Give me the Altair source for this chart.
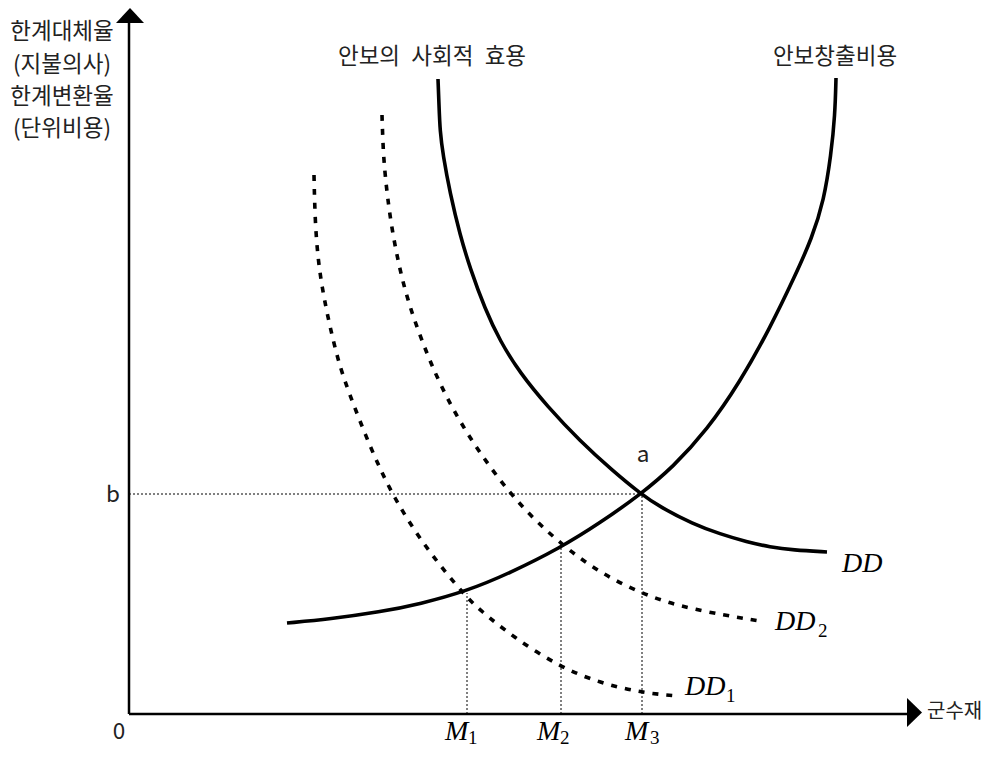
import altair as alt
import pandas as pd

# ---- curve data (quantity q, price p) ----
dd_q = [309, 310, 311, 314, 321, 331, 341, 356, 371, 391, 418, 451, 484, 512, 531, 564, 591, 618, 641, 664, 698]
dd_p = [635, 609, 583, 559, 521, 479, 446, 405, 373, 341, 308, 273, 243, 220, 207, 190, 180, 172, 167, 164, 162]

sup_q = [158, 201, 251, 291, 338, 381, 431, 471, 512, 544, 578, 611, 641, 666, 683, 695, 702, 706, 707]
sup_p = [91, 95, 102, 110, 123, 141, 166, 191, 220, 247, 284, 332, 386, 438, 476, 514, 559, 599, 636]

dd2_q = [253, 254, 256, 261, 269, 279, 294, 311, 338, 381, 421, 464, 514, 564, 631]
dd2_p = [599, 567, 539, 496, 452, 412, 370, 329, 279, 219, 179, 145, 119, 104, 93]

dd1_q = [185, 186, 189, 194, 201, 209, 218, 241, 264, 298, 338, 351, 384, 431, 471, 514, 549]
dd1_p = [539, 494, 454, 421, 387, 354, 326, 267, 217, 164, 116, 104, 77, 47, 31, 21, 18]

# equilibrium quantities and price
m_q = [338, 432, 513]
m_top = [121, 166, 220]
b_price = 220
a_q = 512

# axis extents
x_end = 778
y_end = 691

W, H = 858, 706
xs = alt.Scale(domain=[0, W], nice=False, zero=False)
ys = alt.Scale(domain=[0, H], nice=False, zero=False)


def enc(**kw):
    return dict(
        x=alt.X("q:Q", scale=xs, axis=None),
        y=alt.Y("p:Q", scale=ys, axis=None),
        **kw,
    )


def curve(qs, ps, dash=None):
    df = pd.DataFrame({"q": qs, "p": ps})
    props = dict(color="black", strokeWidth=3.6, interpolate="basis", strokeCap="butt")
    if dash:
        props["strokeDash"] = dash
    return alt.Chart(df).mark_line(**props).encode(**enc())


layers = []

# axes
axes_df = pd.DataFrame({"q": [0, 0], "p": [0, 0], "q2": [x_end, 0], "p2": [0, y_end]})
layers.append(
    alt.Chart(axes_df).mark_rule(color="black", strokeWidth=2.5).encode(
        **enc(x2=alt.X2("q2:Q"), y2=alt.Y2("p2:Q"))
    )
)
# arrow heads
layers.append(
    alt.Chart(pd.DataFrame({"q": [1], "p": [y_end + 7.5]})).mark_point(
        shape="M-1,0.536L1,0.536L0,-0.536Z", size=784, filled=True, opacity=1,
        color="black", strokeWidth=0,
    ).encode(**enc())
)
layers.append(
    alt.Chart(pd.DataFrame({"q": [x_end + 7.5], "p": [1.5]})).mark_point(
        shape="M-0.517,-1L0.517,0L-0.517,1Z", size=841, filled=True, opacity=1,
        color="black", strokeWidth=0,
    ).encode(**enc())
)

# guide lines
guides = pd.DataFrame({
    "q": [0] + m_q,
    "p": [b_price, 0, 0, 0],
    "q2": [a_q] + m_q,
    "p2": [b_price] + m_top,
})
layers.append(
    alt.Chart(guides).mark_rule(color="black", strokeWidth=1, strokeDash=[2, 2]).encode(
        **enc(x2=alt.X2("q2:Q"), y2=alt.Y2("p2:Q"))
    )
)

# curves
layers.append(curve(dd1_q, dd1_p, dash=[6, 8]))
layers.append(curve(dd2_q, dd2_p, dash=[6, 8]))
layers.append(curve(dd_q, dd_p))
layers.append(curve(sup_q, sup_p))

# Korean / plain labels (centered)
ko_text = ["한계대체율", "(지불의사)", "한계변환율", "(단위비용)",
           "안보의\u2002사회적\u2002효용", "안보창출비용", "a", "b", "0"]
ko_q = [-67, -67, -67, -67, 303, 706, 514, -16, -10]
ko_p = [682, 649, 617, 585, 657, 657, 259, 219, -18]
layers.append(
    alt.Chart(pd.DataFrame({"q": ko_q, "p": ko_p, "t": ko_text})).mark_text(
        font="Noto Sans CJK KR", fontSize=22.5, color="#222222", align="center", baseline="middle"
    ).encode(**enc(text="t:N"))
)
layers.append(
    alt.Chart(pd.DataFrame({"q": [798], "p": [2], "t": ["군수재"]})).mark_text(
        font="Noto Sans CJK KR", fontSize=20, color="#222222", align="left", baseline="middle"
    ).encode(**enc(text="t:N"))
)

# math labels
math_text = ["DD", "DD", "DD", "M", "M", "M"]
math_q = [713, 646, 556, 316, 408, 496]
math_p = [142, 84, 19, -26, -26, -26]
layers.append(
    alt.Chart(pd.DataFrame({"q": math_q, "p": math_p, "t": math_text})).mark_text(
        font="Liberation Serif", fontStyle="italic", fontSize=28, color="black",
        align="left", baseline="alphabetic"
    ).encode(**enc(text="t:N"))
)
sub_text = ["2", "1", "1", "2", "3"]
sub_q = [689, 597, 339, 431, 521]
sub_p = [77, 12, -30, -30, -30]
layers.append(
    alt.Chart(pd.DataFrame({"q": sub_q, "p": sub_p, "t": sub_text})).mark_text(
        font="Liberation Serif", fontSize=19, color="black",
        align="left", baseline="alphabetic"
    ).encode(**enc(text="t:N"))
)

chart = alt.layer(*layers).properties(
    width=W, height=H,
    autosize=alt.AutoSizeParams(type="none"),
    padding={"left": 121, "top": 0, "right": 0, "bottom": 35},
    background="white",
).configure_view(stroke=None)

chart.save("out.html", embed_options={"renderer": "svg", "actions": False})
